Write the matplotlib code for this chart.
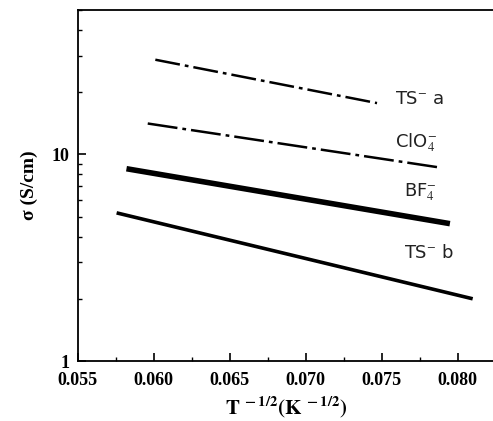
import matplotlib
matplotlib.use("Agg")
import matplotlib.pyplot as plt
from matplotlib.ticker import LogLocator, NullFormatter, FixedLocator, FixedFormatter, MultipleLocator

plt.rcParams['mathtext.fontset'] = 'stix'

# Data: endpoints of each fitted line
ts_a_x = [0.0601, 0.0747]
ts_a_y = [28.7, 17.7]
clo4_x = [0.0596, 0.0789]
clo4_y = [14.1, 8.62]
bf4_x = [0.0582, 0.0795]
bf4_y = [8.52, 4.62]
ts_b_x = [0.05755, 0.0810]
ts_b_y = [5.21, 2.0]

x_ticks = [0.055, 0.060, 0.065, 0.070, 0.075, 0.080]
x_tick_labels = ["0.055", "0.060", "0.065", "0.070", "0.075", "0.080"]
y_ticks = [1, 10]
y_tick_labels = ["1", "10"]

fig = plt.figure(figsize=(4.93, 4.21), dpi=100)
ax = fig.add_axes([0.158, 0.1425, 0.847, 0.834])

ax.plot(ts_a_x, ts_a_y, color='black', lw=1.8, linestyle=(0, (10, 2, 1.5, 2)))
ax.plot(clo4_x, clo4_y, color='black', lw=1.8, linestyle=(0, (12, 2, 1.5, 2)))
ax.plot(bf4_x, bf4_y, color='black', lw=4.0, solid_capstyle='butt')
ax.plot(ts_b_x, ts_b_y, color='black', lw=2.6, solid_capstyle='butt')

ax.set_yscale('log')
ax.set_xlim(0.055, 0.0825)
ax.set_ylim(1, 50)

ax.xaxis.set_major_locator(FixedLocator(x_ticks))
ax.xaxis.set_major_formatter(FixedFormatter(x_tick_labels))
ax.xaxis.set_minor_locator(MultipleLocator(0.0025))
ax.yaxis.set_major_locator(FixedLocator(y_ticks))
ax.yaxis.set_major_formatter(FixedFormatter(y_tick_labels))
ax.yaxis.set_minor_locator(LogLocator(base=10, subs=range(2, 10)))
ax.yaxis.set_minor_formatter(NullFormatter())

ax.tick_params(which='major', direction='in', length=6, width=1.2, top=False, right=False)
ax.tick_params(which='minor', direction='in', length=3, width=1.0, top=False, right=False)
for lab in ax.get_xticklabels() + ax.get_yticklabels():
    lab.set_fontfamily('Liberation Serif')
    lab.set_fontweight('bold')
    lab.set_fontsize(13)
ax.tick_params(axis='x', pad=8)
ax.tick_params(axis='y', pad=6)

ax.spines['right'].set_visible(False)
for s in ['left', 'bottom', 'top']:
    ax.spines[s].set_linewidth(1.3)

ax.set_xlabel(r"$\mathbf{T^{\ -1/2}(K^{\ -1/2})}$", fontsize=15, labelpad=4)
ax.set_ylabel("σ (S/cm)", fontsize=14, fontfamily='Liberation Serif', fontweight='bold', labelpad=10)

lab_kw = dict(fontsize=13, color='#222222', ha='left', va='center', fontfamily='DejaVu Sans')
ax.text(0.0759, 18.5, r"TS$^{-}$ a", **lab_kw)
ax.text(0.0759, 11.4, r"ClO$_4^{-}$", **lab_kw)
ax.text(0.0765, 6.6, r"BF$_4^{-}$", **lab_kw)
ax.text(0.0765, 3.35, r"TS$^{-}$ b", **lab_kw)

fig.savefig("out.png", dpi=100)
